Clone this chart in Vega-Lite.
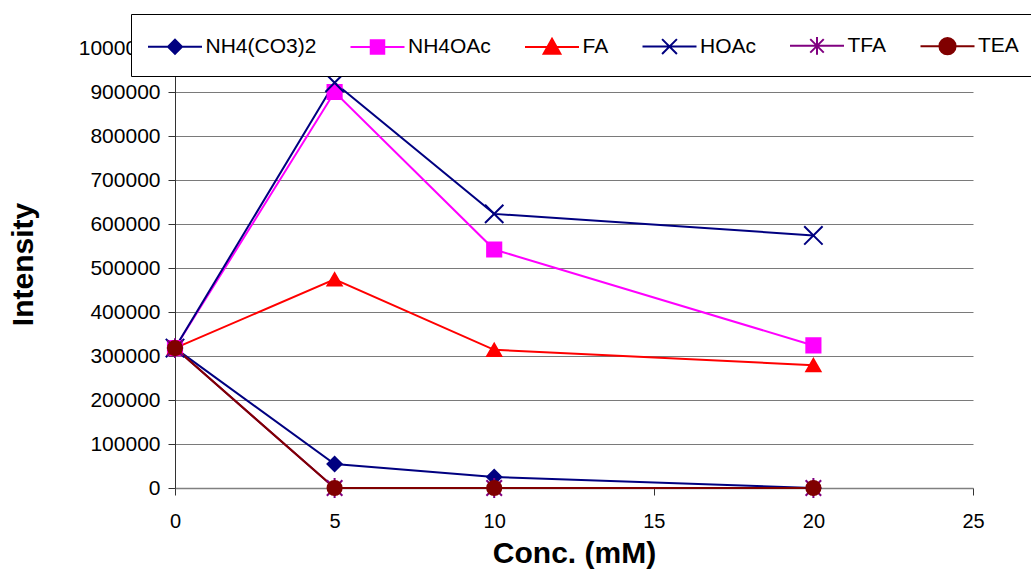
{
  "$schema": "https://vega.github.io/schema/vega-lite/v6.json",
  "width": 798,
  "height": 440,
  "autosize": {"type": "none"},
  "padding": {"left": 175, "top": 48, "right": 58, "bottom": 92},
  "background": "white",
  "config": {
    "view": {"stroke": null},
    "font": "Liberation Sans"
  },
  "data": {
    "values": [
      {"series": "NH4(CO3)2", "conc": 0, "intensity": 318000},
      {"series": "NH4(CO3)2", "conc": 5, "intensity": 54500},
      {"series": "NH4(CO3)2", "conc": 10, "intensity": 25000},
      {"series": "NH4(CO3)2", "conc": 20, "intensity": 0},
      {"series": "NH4OAc", "conc": 0, "intensity": 318000},
      {"series": "NH4OAc", "conc": 5, "intensity": 900000},
      {"series": "NH4OAc", "conc": 10, "intensity": 542000},
      {"series": "NH4OAc", "conc": 20, "intensity": 324000},
      {"series": "FA", "conc": 0, "intensity": 318000},
      {"series": "FA", "conc": 5, "intensity": 474000},
      {"series": "FA", "conc": 10, "intensity": 314000},
      {"series": "FA", "conc": 20, "intensity": 279000},
      {"series": "HOAc", "conc": 0, "intensity": 318000},
      {"series": "HOAc", "conc": 5, "intensity": 921000},
      {"series": "HOAc", "conc": 10, "intensity": 623000},
      {"series": "HOAc", "conc": 20, "intensity": 574000},
      {"series": "TFA", "conc": 0, "intensity": 318000},
      {"series": "TFA", "conc": 5, "intensity": 0},
      {"series": "TFA", "conc": 10, "intensity": 0},
      {"series": "TFA", "conc": 20, "intensity": 0},
      {"series": "TEA", "conc": 0, "intensity": 318000},
      {"series": "TEA", "conc": 5, "intensity": 0},
      {"series": "TEA", "conc": 10, "intensity": 0},
      {"series": "TEA", "conc": 20, "intensity": 0}
    ]
  },
  "encoding": {
    "x": {
      "field": "conc",
      "type": "quantitative",
      "scale": {"domain": [0, 25], "nice": false},
      "axis": {
        "title": "Conc. (mM)",
        "values": [0, 5, 10, 15, 20, 25],
        "grid": false,
        "labelFlush": false,
        "labelOverlap": false,
        "domainColor": "#808080",
        "domainWidth": 1.5,
        "tickColor": "#333333",
        "tickSize": 7,
        "labelFontSize": 20,
        "labelColor": "black",
        "labelPadding": 16,
        "labelFont": "Liberation Sans",
        "titleFont": "Liberation Sans",
        "titleFontSize": 30,
        "titleFontWeight": "bold",
        "titleColor": "black",
        "titleX": 399,
        "titleY": 74,
        "titleBaseline": "alphabetic",
        "titleAlign": "center"
      }
    },
    "y": {
      "field": "intensity",
      "type": "quantitative",
      "scale": {"domain": [0, 1000000], "nice": false},
      "axis": {
        "title": "Intensity",
        "values": [0, 100000, 200000, 300000, 400000, 500000, 600000, 700000, 800000, 900000, 1000000],
        "format": "d",
        "grid": true,
        "labelFlush": false,
        "labelOverlap": false,
        "gridColor": "#7a7a7a",
        "gridWidth": 1,
        "domainColor": "#333333",
        "tickColor": "#333333",
        "tickSize": 7,
        "labelFontSize": 21,
        "labelColor": "black",
        "labelPadding": 8,
        "labelFont": "Liberation Sans",
        "titleFont": "Liberation Sans",
        "titleFontSize": 30,
        "titleFontWeight": "bold",
        "titleColor": "black",
        "titleX": -137,
        "titleY": 216,
        "titleAngle": -90,
        "titleBaseline": "bottom",
        "titleAlign": "center"
      }
    }
  },
  "layer": [
    {
      "mark": {"type": "line", "strokeWidth": 2},
      "encoding": {
        "color": {
          "field": "series",
          "type": "nominal",
          "sort": null,
          "scale": {
            "domain": ["NH4(CO3)2", "NH4OAc", "FA", "HOAc", "TFA", "TEA"],
            "range": ["#000080", "#FF00FF", "#FF0000", "#000080", "#800080", "#800000"]
          },
          "legend": {
            "orient": "none",
            "legendX": -44,
            "legendY": -34,
            "direction": "horizontal",
            "columns": 6,
            "columnPadding": 29.5,
            "padding": 17,
            "fillColor": "white",
            "strokeColor": "black",
            "title": null,
            "labelFont": "Liberation Sans",
            "labelFontSize": 21,
            "labelColor": "black",
            "symbolSize": 729,
            "symbolOffset": 12.5,
            "labelOffset": 16,
            "symbolStrokeWidth": 2,
            "encode": {
              "symbols": {
                "update": {
                  "shape": {"signal": "datum.value === 'NH4(CO3)2' ? 'M-2,0H2M0,-0.52L0.52,0L0,0.52L-0.52,0Z' : datum.value === 'NH4OAc' ? 'M-2,0H2M-0.5,-0.5H0.5V0.5H-0.5Z' : datum.value === 'FA' ? 'M-2,0H2M0,-0.6L0.62,0.5H-0.62Z' : datum.value === 'HOAc' ? 'M-2,0H2M-0.55,-0.55L0.55,0.55M-0.55,0.55L0.55,-0.55' : datum.value === 'TFA' ? 'M-2,0H2M-0.5,-0.5L0.5,0.5M-0.5,0.5L0.5,-0.5M0,-0.65V0.65' : 'M-2,0H2M0.6,0A0.6,0.6 0 1,1 -0.6,0A0.6,0.6 0 1,1 0.6,0Z'"},
                  "stroke": {"scale": "color", "field": "value"},
                  "fill": {"scale": "color", "field": "value"},
                  "strokeWidth": {"value": 2},
                  "opacity": {"value": 1}
                }
              }
            }
          }
        }
      }
    },
    {
      "mark": {"type": "point", "filled": true, "size": 200, "strokeWidth": 2, "opacity": 1},
      "encoding": {
        "color": {
          "field": "series",
          "type": "nominal",
          "sort": null
        },
        "stroke": {
          "field": "series",
          "type": "nominal",
          "sort": null,
          "scale": {
            "domain": ["NH4(CO3)2", "NH4OAc", "FA", "HOAc", "TFA", "TEA"],
            "range": ["#000080", "#FF00FF", "#FF0000", "#000080", "#800080", "#800000"]
          },
          "legend": null
        },
        "shape": {
          "field": "series",
          "type": "nominal",
          "sort": null,
          "legend": null,
          "scale": {
            "domain": ["TEA", "TFA", "HOAc", "FA", "NH4OAc", "NH4(CO3)2"],
            "range": ["circle", "M-1.1,-1.1L1.1,1.1M-1.1,1.1L1.1,-1.1M0,-1.4V1.4", "M-1.3,-1.3L1.3,1.3M-1.3,1.3L1.3,-1.3", "triangle-up", "square", "diamond"]
          }
        }
      }
    }
  ]
}
